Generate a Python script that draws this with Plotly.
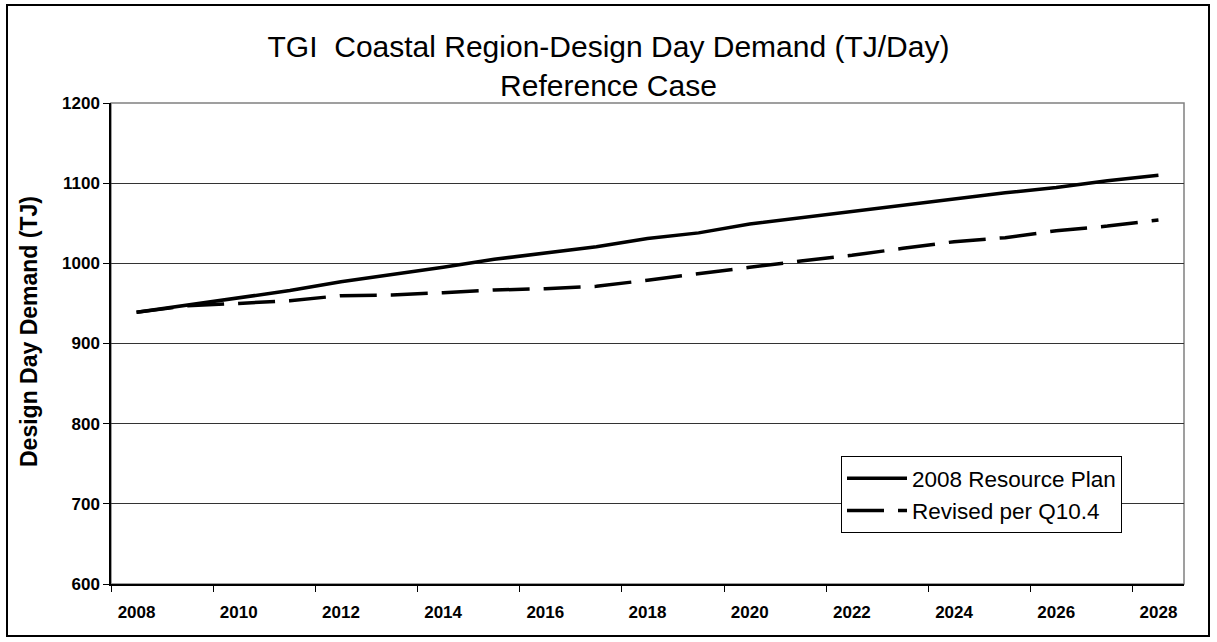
import plotly.graph_objects as go

years = list(range(2008, 2029))
resource_plan_2008 = [939, 948, 958, 966, 977, 985.5, 995, 1005, 1012.6, 1020.7, 1031,
                      1038, 1049, 1057, 1064, 1072.6, 1080, 1088, 1094.6, 1102.9, 1110]
revised_q10_4 = [939, 947, 950, 953.4, 959.7, 960.5, 963.4, 966.7, 968.4, 971.3, 979,
                 987.5, 995, 1003, 1010, 1018.7, 1027, 1032, 1040.6, 1046.5, 1054]
tick_years = list(range(2008, 2029, 2))
y_ticks = [600, 700, 800, 900, 1000, 1100, 1200]

W, H = 1217, 642
L, R, T, B = 111, 33, 103, 58
pw, ph = W - L - R, H - T - B

def px_x(x):
    return (x - L) / pw

def px_y(y):
    return (H - B - y) / ph

FONT = "Arial, Liberation Sans, sans-serif"

fig = go.Figure()
fig.add_trace(go.Scatter(x=years, y=resource_plan_2008, mode="lines",
                         name="2008 Resource Plan",
                         line=dict(color="black", width=3.5)))
fig.add_trace(go.Scatter(x=years, y=revised_q10_4, mode="lines",
                         name="Revised per Q10.4",
                         line=dict(color="black", width=3.5, dash="37px,14px")))

fig.update_layout(
    width=W, height=H,
    margin=dict(l=L, r=R, t=T, b=B),
    paper_bgcolor="white", plot_bgcolor="white",
    font=dict(family=FONT, color="black"),
    title=dict(text="TGI\u00a0 Coastal Region-Design Day Demand (TJ/Day)<br>Reference Case",
               x=0.5, xanchor="center", xref="container",
               y=1 - 57 / H, yanchor="top", yref="container",
               font=dict(size=30, family=FONT, color="black")),
    xaxis=dict(range=[2007.5, 2028.5], tickvals=tick_years,
               ticktext=[str(v) for v in tick_years],
               ticks="", showgrid=False, zeroline=False,
               showline=True, linecolor="black", linewidth=1.5,
               tickfont=dict(size=17, family=FONT, color="black", weight="bold"),
               ticklabelstandoff=12,
               minor=dict(tick0=2007.5, dtick=2, ticks="outside", ticklen=6,
                          tickcolor="black", tickwidth=1, showgrid=False)),
    yaxis=dict(range=[600, 1200], tickvals=y_ticks,
               ticks="outside", ticklen=6, tickcolor="black", tickwidth=1,
               showgrid=True, gridcolor="#333333", gridwidth=1, zeroline=False,
               showline=True, linecolor="black", linewidth=1.5,
               tickfont=dict(size=17, family=FONT, color="black", weight="bold")),
    legend=dict(x=px_x(841), y=px_y(533), xanchor="left", yanchor="bottom",
                bgcolor="white", bordercolor="black", borderwidth=1,
                font=dict(size=22.5, family=FONT, color="black"),
                itemwidth=60),
    showlegend=True,
)

# Y-axis title
fig.add_annotation(text="<b>Design Day Demand (TJ)</b>", textangle=-90,
                   xref="paper", yref="paper", x=px_x(29), y=px_y(332),
                   xanchor="center", yanchor="middle", showarrow=False,
                   font=dict(size=23, family=FONT, color="black"))

# plot area frame (gray top/right)
fig.add_shape(type="rect", xref="paper", yref="paper", x0=0, y0=0, x1=1, y1=1,
              line=dict(color="#808080", width=1.5), layer="below")
# outer chart border
fig.add_shape(type="rect", xref="paper", yref="paper",
              x0=px_x(7), x1=px_x(1209), y0=px_y(636), y1=px_y(5),
              line=dict(color="black", width=2))

fig.write_html("out.html")
